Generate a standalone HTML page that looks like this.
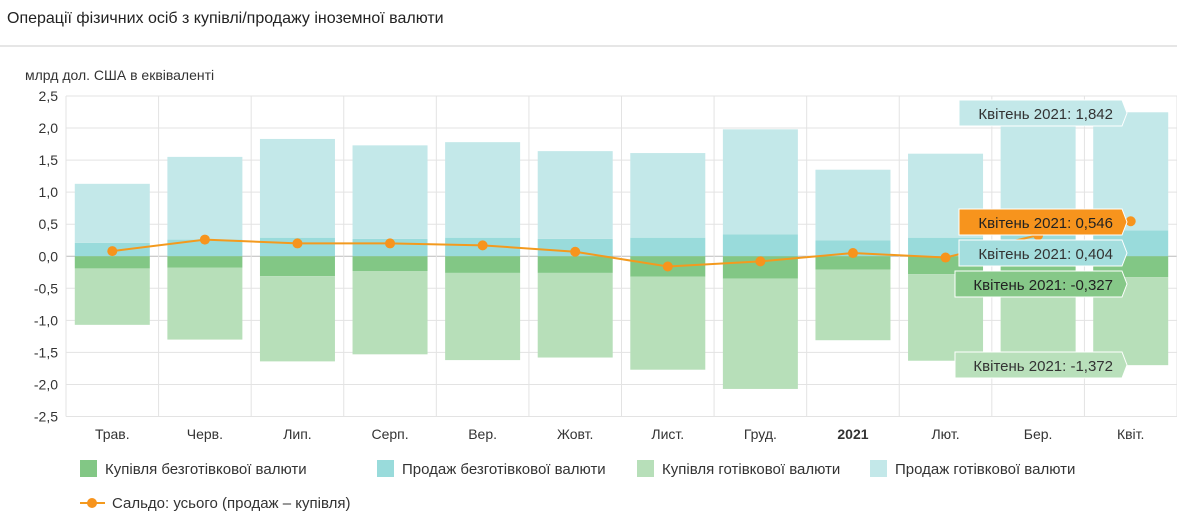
<!DOCTYPE html>
<html><head><meta charset="utf-8"><style>
body{margin:0;background:#fff;font-family:"Liberation Sans",sans-serif;}
#wrap{position:relative;width:1177px;height:519px;overflow:hidden;}
</style></head><body>
<div id="wrap">
<svg id="svg" width="1177" height="519" xmlns="http://www.w3.org/2000/svg" font-family="Liberation Sans, sans-serif">
<text x="7" y="23" font-size="16" fill="#222">Операції фізичних осіб з купівлі/продажу іноземної валюти</text>
<line x1="0" y1="46" x2="1177" y2="46" stroke="#e6e6e6" stroke-width="2"/>
<text x="25" y="80" font-size="14" fill="#333">млрд дол. США в еквіваленті</text>
<g id="grid"></g><g id="bars"></g><g id="line"></g><g id="axis"></g><g id="tips"></g><g id="legend"></g>
</svg>
</div>
<script>
const categories=["Трав.","Черв.","Лип.","Серп.","Вер.","Жовт.","Лист.","Груд.","2021","Лют.","Бер.","Квіт."];
const cashlessSale=[0.21,0.26,0.29,0.27,0.29,0.27,0.29,0.34,0.25,0.29,0.40,0.404];
const cashSale=[0.92,1.29,1.54,1.46,1.49,1.37,1.32,1.64,1.10,1.31,1.75,1.842];
const cashlessBuy=[-0.19,-0.18,-0.31,-0.23,-0.26,-0.26,-0.32,-0.35,-0.21,-0.28,-0.32,-0.327];
const cashBuy=[-0.88,-1.12,-1.33,-1.30,-1.36,-1.32,-1.45,-1.72,-1.10,-1.35,-1.38,-1.372];
const saldo=[0.08,0.26,0.20,0.20,0.17,0.07,-0.16,-0.08,0.05,-0.02,0.33,0.546];
const yTicks=[2.5,2.0,1.5,1.0,0.5,0.0,-0.5,-1.0,-1.5,-2.0,-2.5];
const NS="http://www.w3.org/2000/svg";
const L=66,R=1177,T=96,B=416.5,yMin=-2.5,yMax=2.5;
const bw=(R-L)/categories.length;
const y=v=>T+(yMax-v)/(yMax-yMin)*(B-T);
const xc=i=>L+bw*(i+0.5);
function mk(tag,parent,attrs){const e=document.createElementNS(NS,tag);for(const k in attrs)e.setAttribute(k,attrs[k]);document.getElementById(parent).appendChild(e);return e;}
// grid
yTicks.forEach(t=>{
 const g=mk('line','grid',{x1:L,x2:R,y1:y(t),y2:y(t),stroke:t===0?'#bbb':'#e3e3e3'});
 
 
 const lb=mk('text','axis',{x:58,y:y(t)+5,'font-size':14,fill:'#333','text-anchor':'end'});
 lb.textContent=t.toFixed(1).replace('.',',');
 
 
});
for(let i=0;i<=categories.length;i++){
 const g=mk('line','grid',{x1:L+bw*i,x2:L+bw*i,y1:T,y2:B,stroke:'#e3e3e3'});
 
 
}
const bwid=75;
function bar(i,v0,v1,col,name){
 const r=mk('rect','bars',{x:xc(i)-bwid/2,y:Math.min(y(v0),y(v1)),width:bwid,height:Math.abs(y(v0)-y(v1)),fill:col});
 
 
}
categories.forEach((c,i)=>{
 bar(i,0,cashlessSale[i],'#99dbdb','bar-cashless-sale');
 bar(i,cashlessSale[i],cashlessSale[i]+cashSale[i],'#c3e8e9','bar-cash-sale');
 bar(i,0,cashlessBuy[i],'#82c785','bar-cashless-purchase');
 bar(i,cashlessBuy[i],cashlessBuy[i]+cashBuy[i],'#b7dfb9','bar-cash-purchase');
 const t=mk('text','axis',{x:xc(i),y:439,'font-size':14,fill:'#333','text-anchor':'middle','font-weight':c==='2021'?'bold':'normal'});
 t.textContent=c;
 
 
});
const pl=mk('polyline','line',{points:saldo.map((v,i)=>xc(i)+','+y(v)).join(' '),fill:'none',stroke:'#f39a1e','stroke-width':2});


saldo.forEach((v,i)=>{
 const c=mk('circle','line',{cx:xc(i),cy:y(v),r:5,fill:'#f7941d'});
 
 
});
// tooltips
const tips=[[959,100,'#c3e8e9','#333','Квітень 2021: 1,842'],[959,209,'#f7941d','#222','Квітень 2021: 0,546'],[959,240,'#a4dede','#333','Квітень 2021: 0,404'],[955,271,'#86c888','#222','Квітень 2021: -0,327'],[955,352,'#b9e0bb','#333','Квітень 2021: -1,372']];
tips.forEach(t=>{
 const [x0,y0,bg,fg,txt]=t;
 const p=mk('path','tips',{d:`M${x0},${y0} H1122 L1127,${y0+13} L1122,${y0+26} H${x0} Z`,fill:bg,stroke:'#fff','stroke-width':1});
 
 
 const tx=mk('text','tips',{x:1113,y:y0+19,'font-size':15,fill:fg,'text-anchor':'end'});
 tx.textContent=txt;
 
 
});
// legend
const leg=[[80,'#82c785','Купівля безготівкової валюти'],[377,'#99dbdb','Продаж безготівкової валюти'],[637,'#b7dfb9','Купівля готівкової валюти'],[870,'#c3e8e9','Продаж готівкової валюти']];
leg.forEach(l=>{
 const r=mk('rect','legend',{x:l[0],y:460,width:17,height:17,fill:l[1]});
 
 
 const t=mk('text','legend',{x:l[0]+25,y:474,'font-size':15,fill:'#333'});
 t.textContent=l[2];
 
 
});
const ll=mk('line','legend',{x1:80,x2:105,y1:503,y2:503,stroke:'#f39a1e','stroke-width':2});


const lc=mk('circle','legend',{cx:92,cy:503,r:5,fill:'#f7941d'});


const lt=mk('text','legend',{x:112,y:508,'font-size':15,fill:'#333'});
lt.textContent='Сальдо: усього (продаж – купівля)';


</script>
</body></html>
